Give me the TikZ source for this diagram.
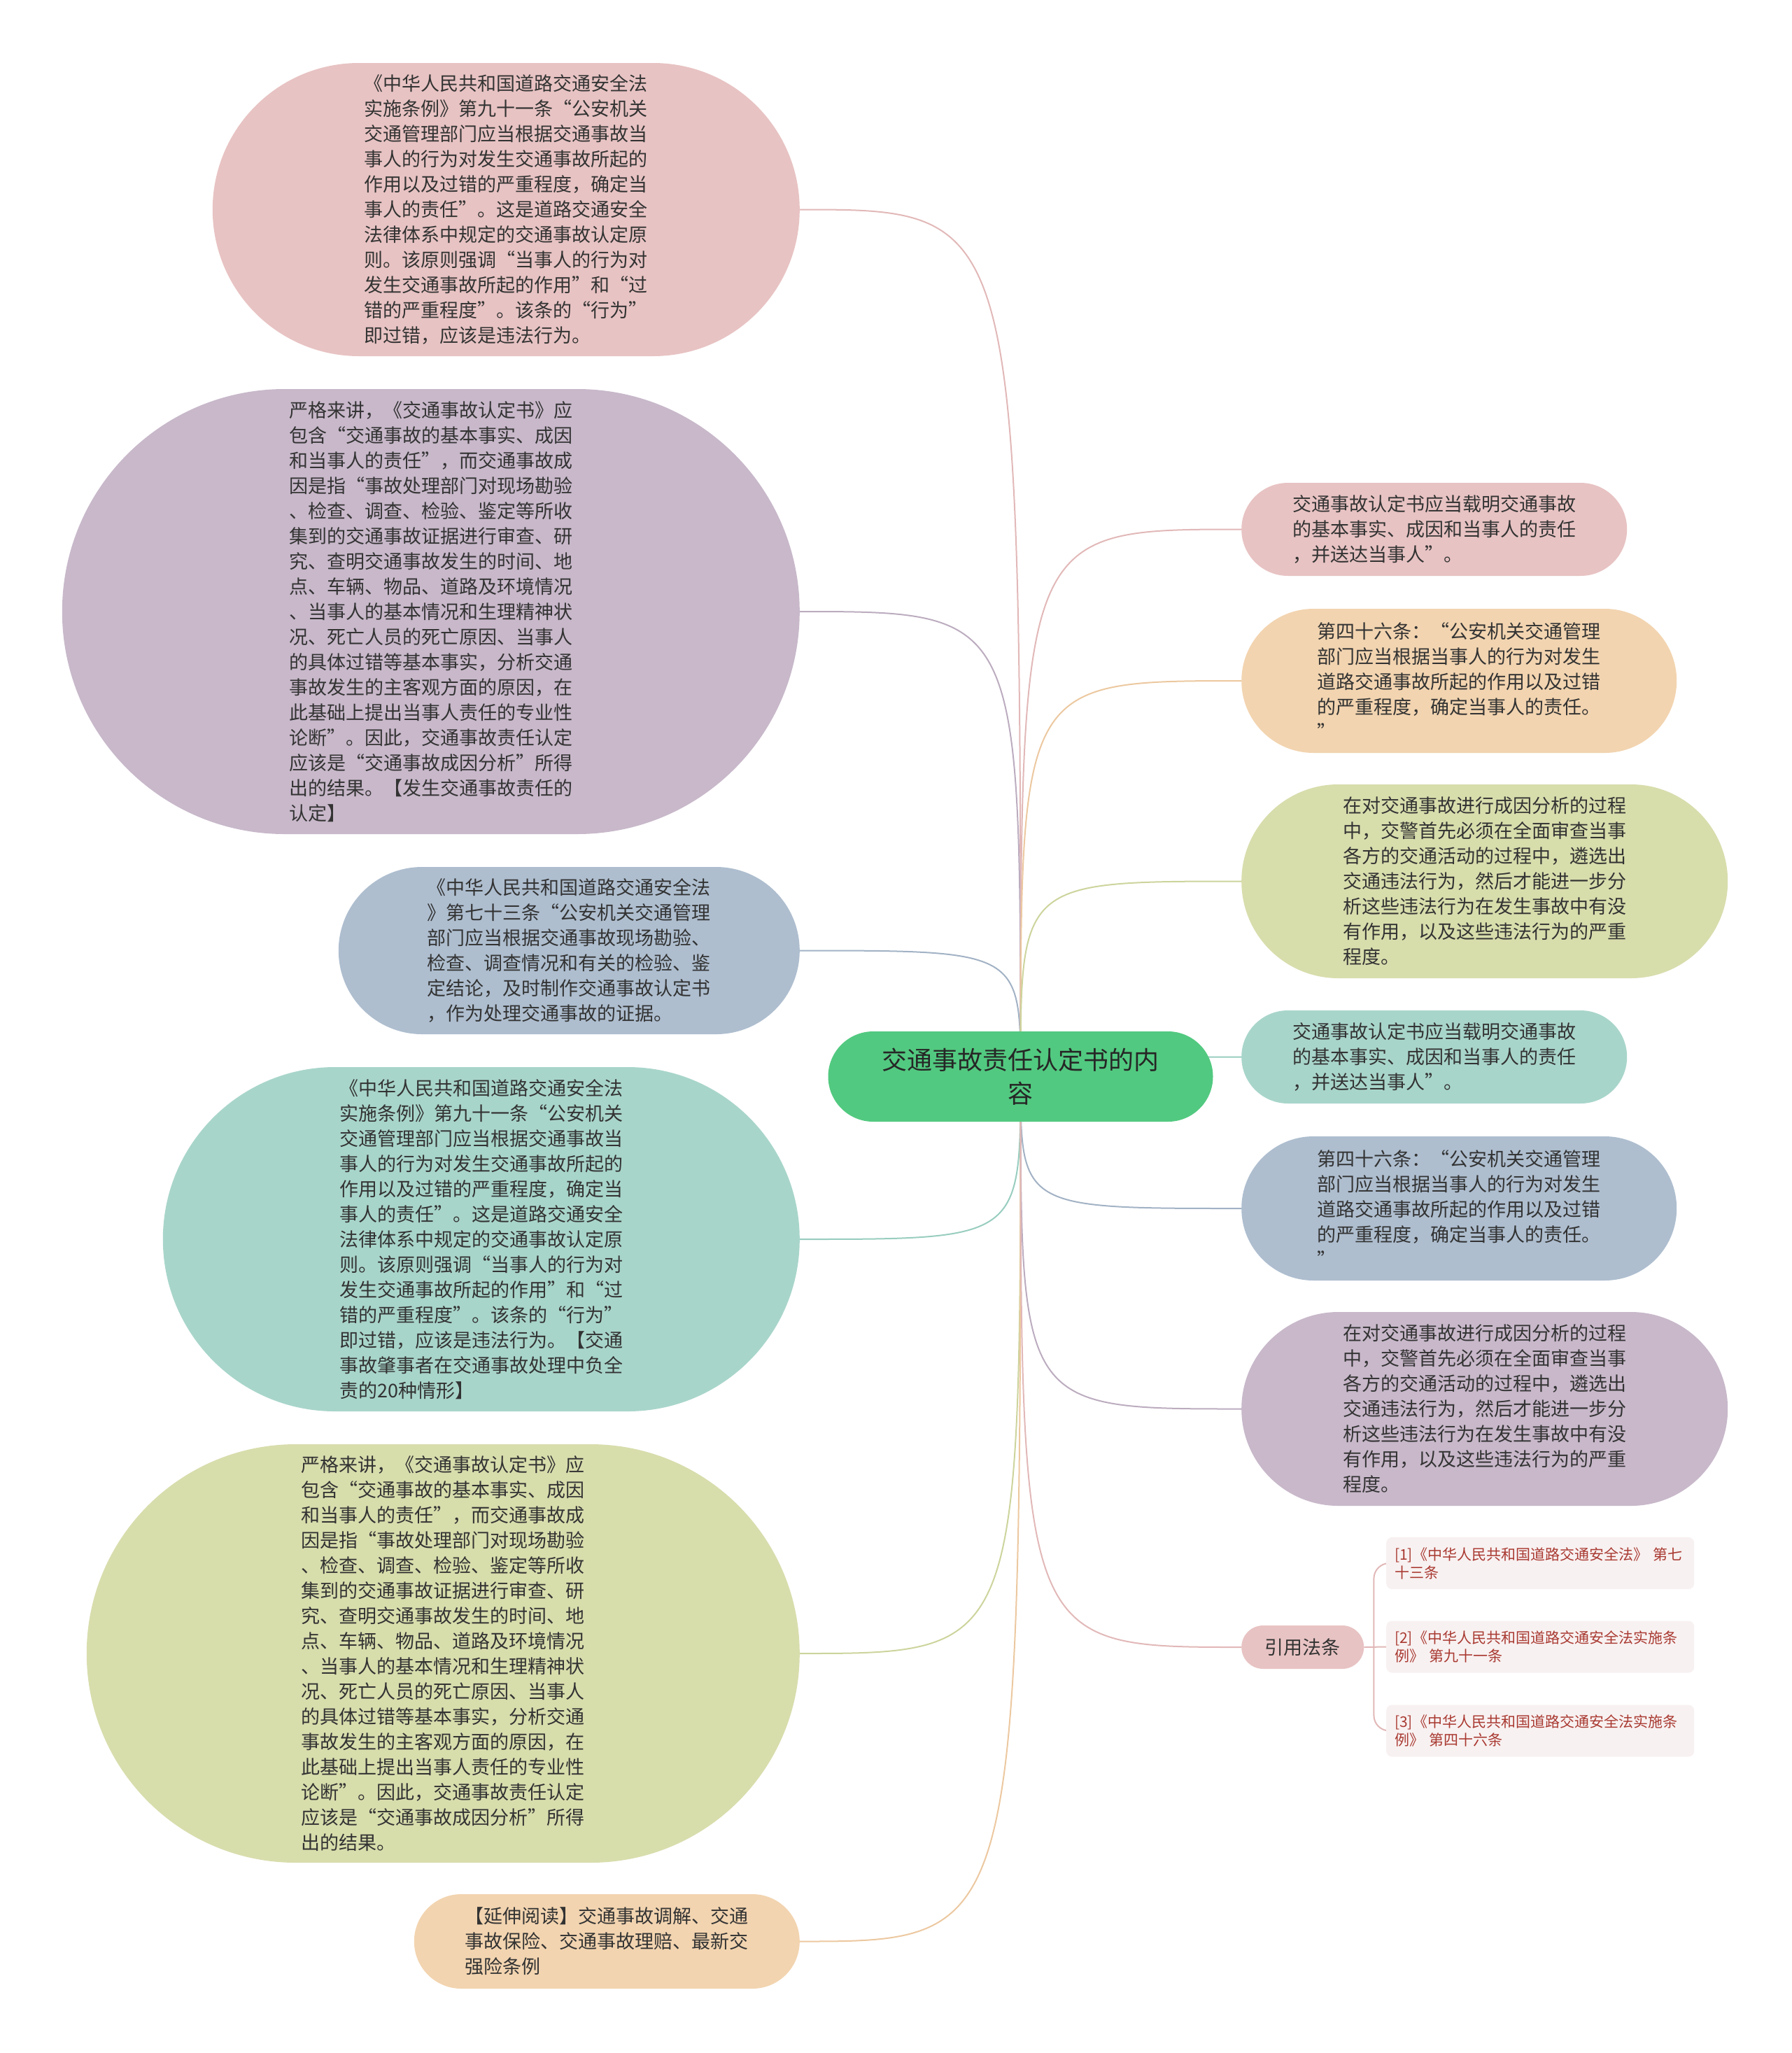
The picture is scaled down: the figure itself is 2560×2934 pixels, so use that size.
\documentclass[tikz,border=0pt]{standalone}
\usepackage{fontspec}
\newfontfamily\cjk{Noto Sans CJK SC}
\usepackage{tikz}
\usetikzlibrary{shapes.misc}
\usetikzlibrary{backgrounds}

\definecolor{txt}{HTML}{333333}
\definecolor{rootfill}{HTML}{52C980}
\definecolor{pinkfill}{HTML}{E8C3C3}
\definecolor{purplefill}{HTML}{C8B8CA}
\definecolor{bluefill}{HTML}{AEBECF}
\definecolor{tealfill}{HTML}{A8D5CA}
\definecolor{olivefill}{HTML}{D8DDAC}
\definecolor{peachfill}{HTML}{F2D4B0}
\definecolor{citefill}{HTML}{F8F1F1}
\definecolor{citetxt}{HTML}{A93A32}
\definecolor{pinkline}{HTML}{E2B8B8}
\definecolor{purpleline}{HTML}{BCACBF}
\definecolor{blueline}{HTML}{A2B2C5}
\definecolor{tealline}{HTML}{98CDBF}
\definecolor{oliveline}{HTML}{CDD49C}
\definecolor{peachline}{HTML}{ECC8A0}

\begin{document}
\begin{tikzpicture}[x=1pt, y=-1pt, every node/.style={font=\cjk\fontsize{27pt}{36pt}\selectfont, text=txt},
	bubble/.style={rounded rectangle, inner xsep=6pt, inner ysep=0pt, text width=405pt, align=left},
	cite/.style={rectangle, rounded corners=8pt, fill=citefill, text=citetxt, inner xsep=12pt, inner ysep=0pt, text width=416pt, align=left, minimum height=74pt, anchor=west, font=\cjk\fontsize{21pt}{26pt}\selectfont},
	link/.style={line width=2pt}]
	\useasboundingbox (0,0) rectangle (2560,2934);

	\node[bubble, fill=rootfill, minimum width=562pt, minimum height=129pt, text width=408pt, align=center, text=black!85, font=\cjk\fontsize{36pt}{48pt}\selectfont] (root) at (1458.5,1538.5) {交通事故责任认定书的内\\容};

	\node[bubble, fill=pinkfill, minimum width=851pt, minimum height=419pt, anchor=east] (l1) at (1143,299.5) {《中华人民共和国道路交通安全法\\实施条例》第九十一条“公安机关\\交通管理部门应当根据交通事故当\\事人的行为对发生交通事故所起的\\作用以及过错的严重程度，确定当\\事人的责任”。这是道路交通安全\\法律体系中规定的交通事故认定原\\则。该原则强调“当事人的行为对\\发生交通事故所起的作用”和“过\\错的严重程度”。该条的“行为”\\即过错，应该是违法行为。};
	\node[bubble, fill=purplefill, minimum width=1066pt, minimum height=636pt, anchor=east] (l2) at (1143,874) {严格来讲，《交通事故认定书》应\\包含“交通事故的基本事实、成因\\和当事人的责任”，而交通事故成\\因是指“事故处理部门对现场勘验\\、检查、调查、检验、鉴定等所收\\集到的交通事故证据进行审查、研\\究、查明交通事故发生的时间、地\\点、车辆、物品、道路及环境情况\\、当事人的基本情况和生理精神状\\况、死亡人员的死亡原因、当事人\\的具体过错等基本事实，分析交通\\事故发生的主客观方面的原因，在\\此基础上提出当事人责任的专业性\\论断”。因此，交通事故责任认定\\应该是“交通事故成因分析”所得\\出的结果。【发生交通事故责任的\\认定】};
	\node[bubble, fill=bluefill, minimum width=671pt, minimum height=239pt, anchor=east] (l3) at (1143,1358.5) {《中华人民共和国道路交通安全法\\》第七十三条“公安机关交通管理\\部门应当根据交通事故现场勘验、\\检查、调查情况和有关的检验、鉴\\定结论，及时制作交通事故认定书\\，作为处理交通事故的证据。};
	\node[bubble, fill=tealfill, minimum width=922pt, minimum height=492pt, anchor=east] (l4) at (1143,1771) {《中华人民共和国道路交通安全法\\实施条例》第九十一条“公安机关\\交通管理部门应当根据交通事故当\\事人的行为对发生交通事故所起的\\作用以及过错的严重程度，确定当\\事人的责任”。这是道路交通安全\\法律体系中规定的交通事故认定原\\则。该原则强调“当事人的行为对\\发生交通事故所起的作用”和“过\\错的严重程度”。该条的“行为”\\即过错，应该是违法行为。【交通\\事故肇事者在交通事故处理中负全\\责的20种情形】};
	\node[bubble, fill=olivefill, minimum width=1031pt, minimum height=598pt, anchor=east] (l5) at (1143,2363) {严格来讲，《交通事故认定书》应\\包含“交通事故的基本事实、成因\\和当事人的责任”，而交通事故成\\因是指“事故处理部门对现场勘验\\、检查、调查、检验、鉴定等所收\\集到的交通事故证据进行审查、研\\究、查明交通事故发生的时间、地\\点、车辆、物品、道路及环境情况\\、当事人的基本情况和生理精神状\\况、死亡人员的死亡原因、当事人\\的具体过错等基本事实，分析交通\\事故发生的主客观方面的原因，在\\此基础上提出当事人责任的专业性\\论断”。因此，交通事故责任认定\\应该是“交通事故成因分析”所得\\出的结果。};
	\node[bubble, fill=peachfill, minimum width=563pt, minimum height=135pt, anchor=east] (l6) at (1143,2774.5) {【延伸阅读】交通事故调解、交通\\事故保险、交通事故理赔、最新交\\强险条例};

	\node[bubble, fill=pinkfill, minimum width=563pt, minimum height=133pt, anchor=west] (r1) at (1774,756.5) {交通事故认定书应当载明交通事故\\的基本事实、成因和当事人的责任\\，并送达当事人”。};
	\node[bubble, fill=peachfill, minimum width=634pt, minimum height=206pt, anchor=west] (r2) at (1774,973) {第四十六条：“公安机关交通管理\\部门应当根据当事人的行为对发生\\道路交通事故所起的作用以及过错\\的严重程度，确定当事人的责任。\\”};
	\node[bubble, fill=olivefill, minimum width=707pt, minimum height=277pt, anchor=west] (r3) at (1774,1259.5) {在对交通事故进行成因分析的过程\\中，交警首先必须在全面审查当事\\各方的交通活动的过程中，遴选出\\交通违法行为，然后才能进一步分\\析这些违法行为在发生事故中有没\\有作用，以及这些违法行为的严重\\程度。};
	\node[bubble, fill=tealfill, minimum width=563pt, minimum height=133pt, anchor=west] (r4) at (1774,1510.5) {交通事故认定书应当载明交通事故\\的基本事实、成因和当事人的责任\\，并送达当事人”。};
	\node[bubble, fill=bluefill, minimum width=634pt, minimum height=206pt, anchor=west] (r5) at (1774,1727) {第四十六条：“公安机关交通管理\\部门应当根据当事人的行为对发生\\道路交通事故所起的作用以及过错\\的严重程度，确定当事人的责任。\\”};
	\node[bubble, fill=purplefill, minimum width=707pt, minimum height=277pt, anchor=west] (r6) at (1774,2013.5) {在对交通事故进行成因分析的过程\\中，交警首先必须在全面审查当事\\各方的交通活动的过程中，遴选出\\交通违法行为，然后才能进一步分\\析这些违法行为在发生事故中有没\\有作用，以及这些违法行为的严重\\程度。};
	\node[rounded rectangle, fill=pinkfill, inner xsep=2pt, minimum width=179pt, minimum height=62pt, anchor=west] (law) at (1774,2354) {引用法条};

	\node[cite] (ref1) at (1981,2234) {[1]《中华人民共和国道路交通安全法》 第七\\十三条};
	\node[cite] (ref2) at (1981,2353.5) {[2]《中华人民共和国道路交通安全法实施条\\例》 第九十一条};
	\node[cite] (ref3) at (1981,2473.5) {[3]《中华人民共和国道路交通安全法实施条\\例》 第四十六条};
	\coordinate (fork) at ([xshift=14pt]law.east);

	\begin{scope}[on background layer]
		\foreach \n/\c in {l1/pinkline, l2/purpleline, l3/blueline, l4/tealline, l5/oliveline, l6/peachline}
			\draw[link, \c] (root.center) .. controls (root.center |- \n.east) .. (\n.east);
		\foreach \n/\c in {r1/pinkline, r2/peachline, r3/oliveline, r4/tealline, r5/blueline, r6/purpleline, law/pinkline}
			\draw[link, \c] (root.center) .. controls (root.center |- \n.west) .. (\n.west);
		\draw[link, pinkline] (law.east) -- (ref2.west);
		\draw[link, pinkline, rounded corners=22pt] (fork) |- (ref1.west);
		\draw[link, pinkline, rounded corners=22pt] (fork) |- (ref3.west);
	\end{scope}
\end{tikzpicture}
\end{document}
